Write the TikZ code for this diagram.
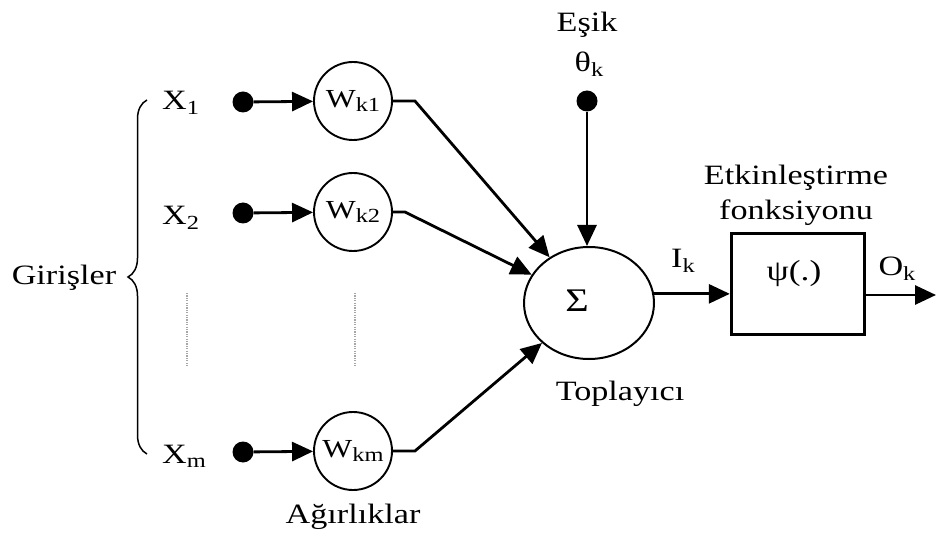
\documentclass[tikz,border=0pt]{standalone}
\usepackage{fontspec}
\setmainfont{Liberation Serif}[FakeStretch=1.22]
\usetikzlibrary{arrows.meta,shapes.geometric,decorations.pathreplacing}
\newcommand\sbs[1]{\raisebox{-0.16em}{\fontsize{20}{20}\selectfont #1}}
\tikzset{
  txt/.style={inner sep=0pt},
  wc/.style={circle,draw,line width=1.9pt,minimum size=78pt,inner sep=0pt,font=\fontsize{26}{30}\selectfont},
  dotn/.style={circle,fill=black,minimum size=21pt,inner sep=0pt},
  arr/.style={line width=2.8pt,-{Triangle[length=21pt,width=19pt]}},
  dotline/.style={gray!70,line width=1.2pt,dash pattern=on 1.2pt off 1.2pt}
}
\begin{document}
\begin{tikzpicture}[x=1pt,y=-1pt,font=\fontsize{28}{32}\selectfont]
\useasboundingbox (0,0) rectangle (936,534);
% inputs
\node[txt,anchor=base west] (x1) at (162,110) {X\sbs{1}};
\node[txt,anchor=base west] (x2) at (162,225) {X\sbs{2}};
\node[txt,anchor=base west] (xm) at (162,463) {X\sbs{m}};
\node[dotn] (d1) at (243,102) {};
\node[dotn] (d2) at (243,213) {};
\node[dotn] (dm) at (243,452) {};
\node[wc] (w1) at (353,101) {W\sbs{k1}};
\node[wc] (w2) at (353,212) {W\sbs{k2}};
\node[wc] (wm) at (353,451) {W\sbs{km}};
\draw[arr] (d1) -- (w1);
\draw[arr] (d2) -- (w2);
\draw[arr] (dm) -- (wm);
% dotted lines
\coordinate (da1) at (187,293); \coordinate (db1) at (187,367);
\coordinate (da2) at (355,293); \coordinate (db2) at (355,367);
\draw[dotline] (da1) -- (db1);
\draw[dotline] (da2) -- (db2);
% brace
\coordinate (bb) at (147,454); \coordinate (bt) at (147,100);
\draw[line width=1.5pt,decorate,decoration={brace,amplitude=19pt}] (bb) -- (bt);
\node[txt,anchor=base] (gir) at (64,285) {Girişler};
\node[txt,anchor=base] (agr) at (353,523) {Ağırlıklar};
% summation
\node[ellipse,draw,line width=2pt,minimum width=130pt,minimum height=112pt,inner sep=0pt] (sig) at (589,303) {};
\node[txt,font=\fontsize{33}{36}\selectfont] (sigma) at (577,301) {Σ};
\node[txt,anchor=base] (top) at (620,400) {Toplayıcı};
\draw[arr] (w1.east) -- ++(22,0) -- (sig);
\draw[arr] (w2.east) -- ++(12,0) -- (sig);
\draw[arr] (wm.east) -- ++(22,0) -- (sig);
% threshold
\node[txt,anchor=base] (esik) at (587,32) {Eşik};
\node[txt,anchor=base] (theta) at (589,72) {θ\sbs{k}};
\node[dotn] (dt) at (587,101) {};
\draw[arr] (dt) -- (dt |- sig.north);
% activation
\node[rectangle,draw,line width=3.4pt,minimum width=133pt,minimum height=101pt,inner sep=0pt] (box) at (798,284) {};
\node[txt,font=\fontsize{29}{32}\selectfont] (psi) at (794,274) {ψ(.)};
\node[txt,anchor=base] (etk) at (796,185) {Etkinleştirme};
\node[txt,anchor=base] (fon) at (796,220) {fonksiyonu};
\draw[arr] (sig.8) -- (sig.8 -| box.west);
\node[txt,anchor=base] (ik) at (683,268) {I\sbs{k}};
\coordinate (out) at (936,295);
\draw[arr] (box.east |- out) -- (out);
\node[txt,anchor=base] (ok) at (897,276) {O\sbs{k}};
\end{tikzpicture}
\end{document}
